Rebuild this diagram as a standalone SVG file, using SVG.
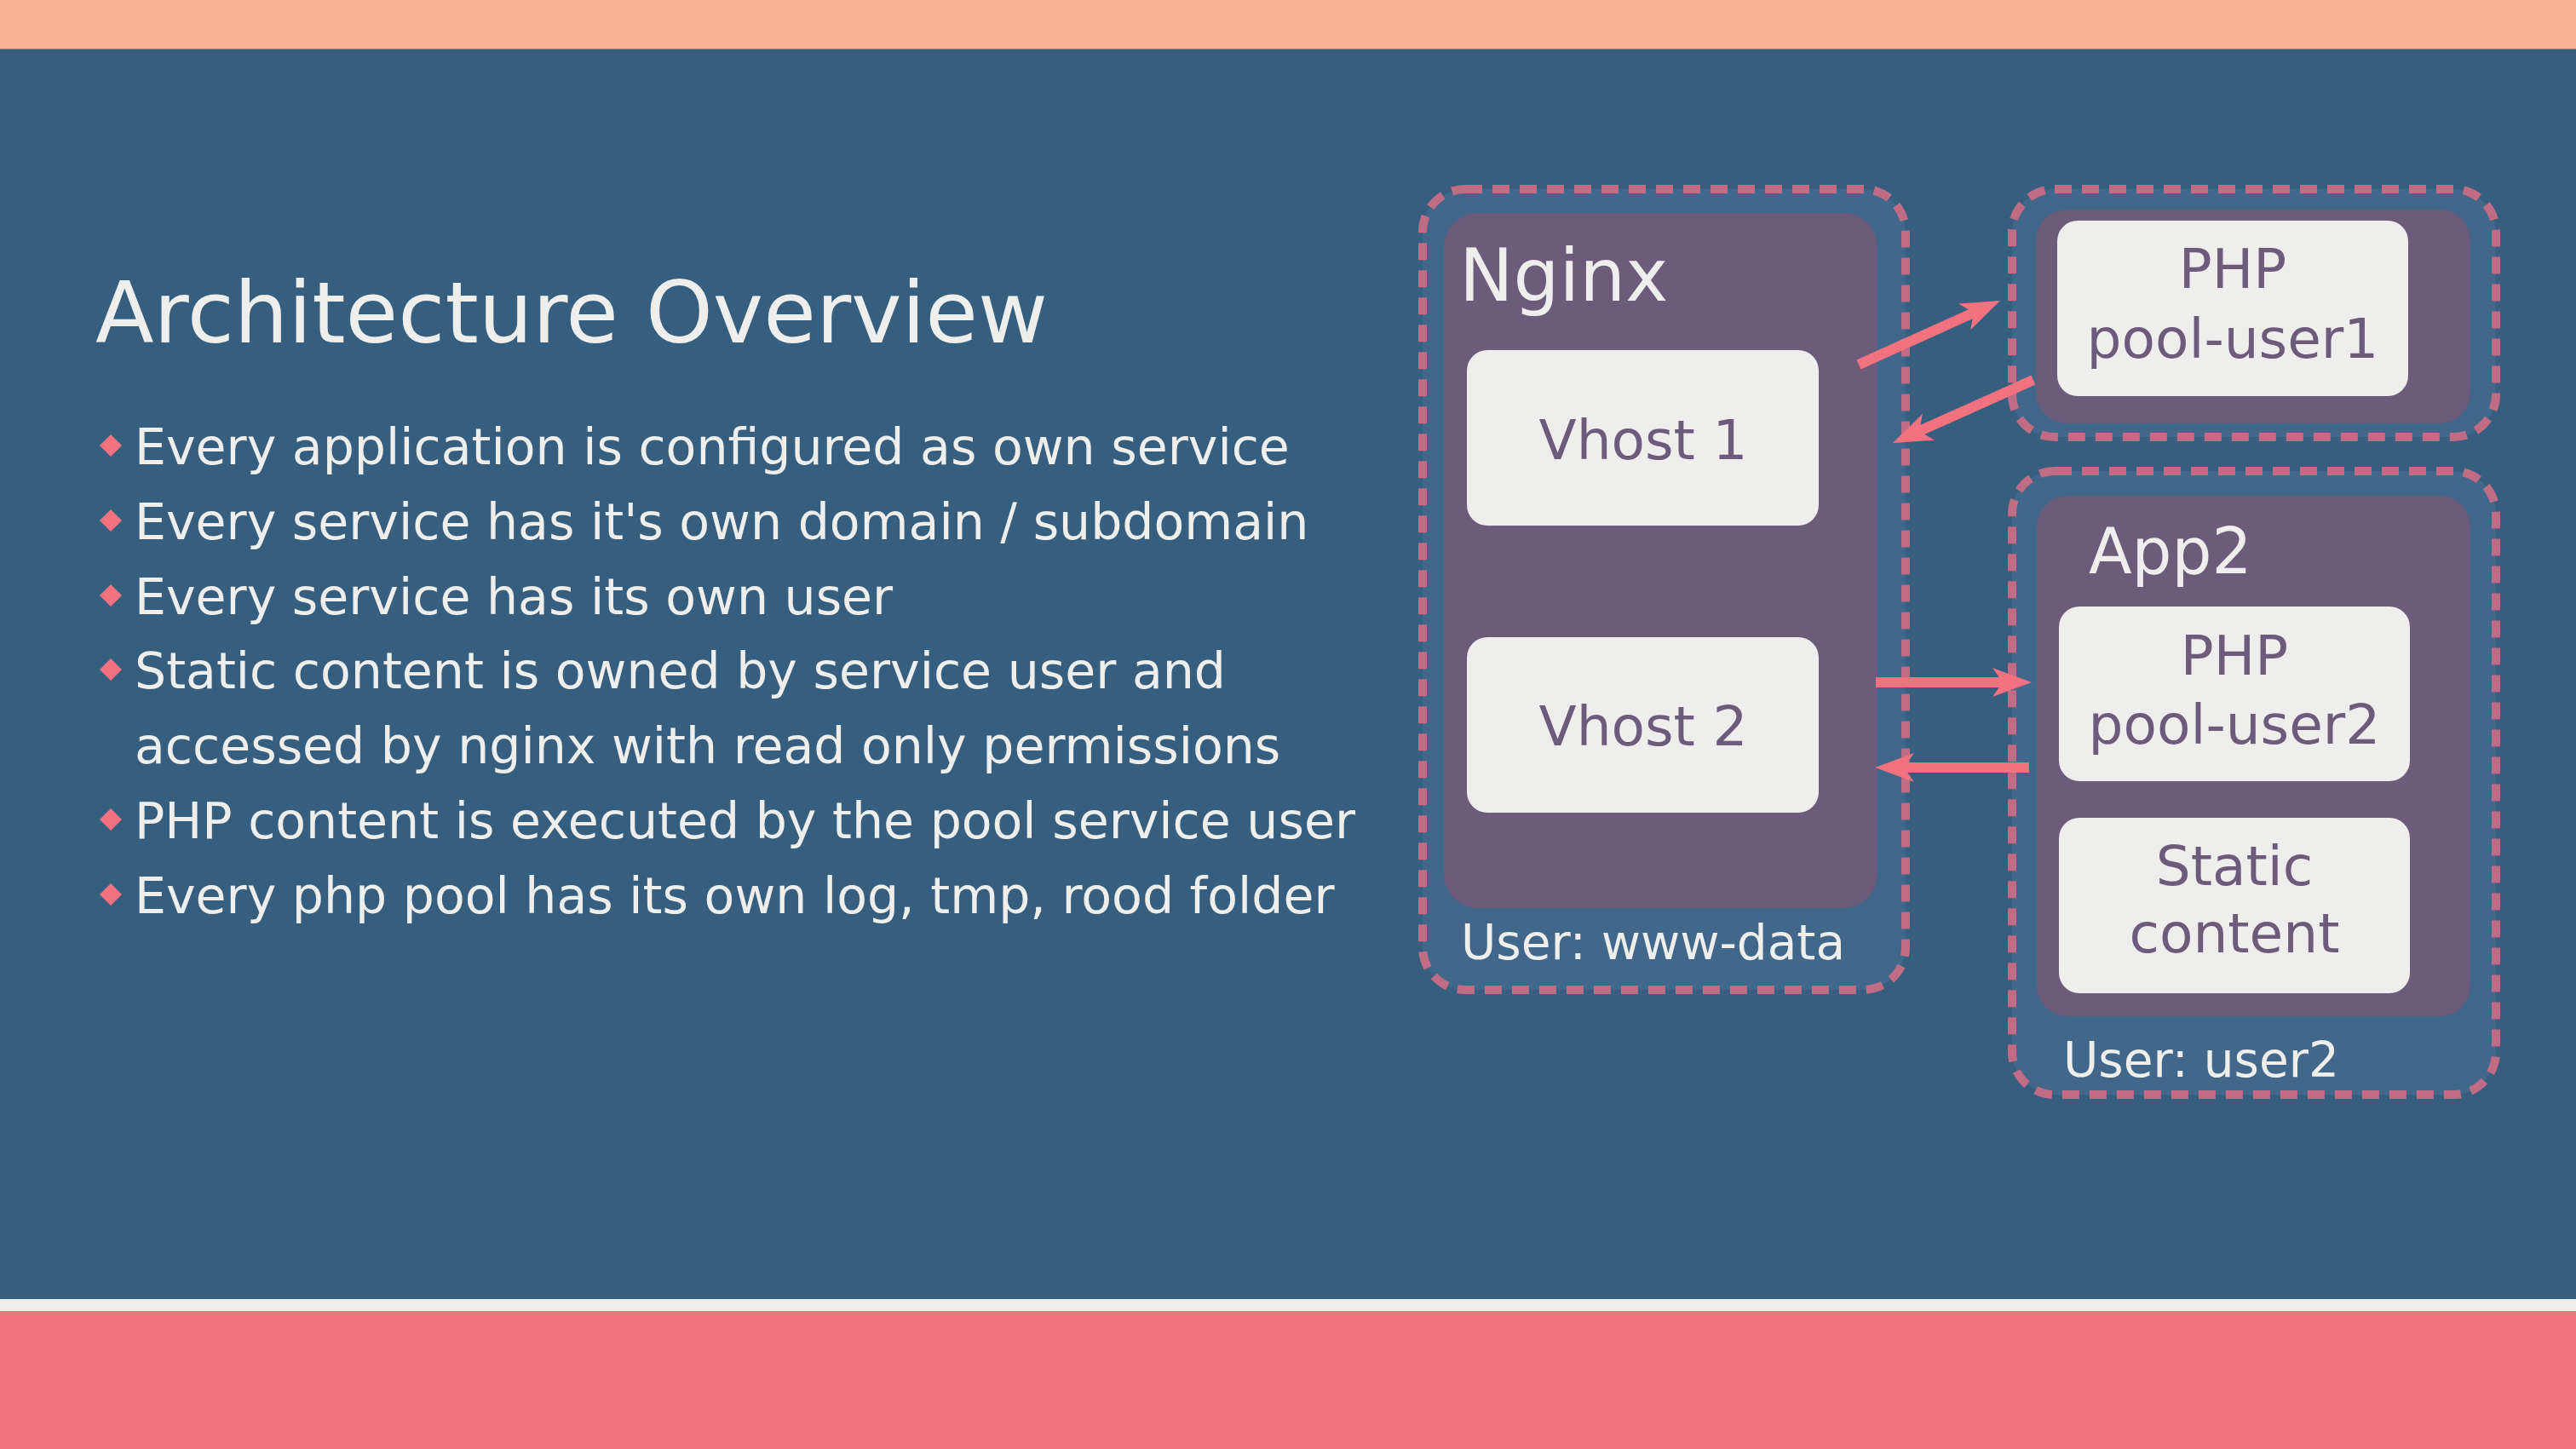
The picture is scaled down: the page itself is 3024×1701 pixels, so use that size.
<svg xmlns="http://www.w3.org/2000/svg" width="3024" height="1701" viewBox="0 0 3024 1701">
<defs>
<style>
.txt{font-family:"DejaVu Sans","Liberation Sans",sans-serif}
.light{fill:#EEEEEC}
.dark{fill:#6C5B7B}
.bullet{font-size:58.5px}
.diamond{fill:#F2727F}
.outer{fill:#41678A;stroke:#C06C84;stroke-width:10;stroke-dasharray:20 12}
.inner{fill:#6C5B7B}
.box{fill:#EEEEEC}
.boxtxt{font-size:64.5px;text-anchor:middle}
.user{font-size:56.5px}
.arrow{stroke:#F2727F;stroke-width:12;fill:none;stroke-linecap:butt;marker-end:url(#head)}
</style>
<marker id="head" viewBox="0 0 46 34" markerWidth="46" markerHeight="34" refX="20" refY="17" markerUnits="userSpaceOnUse" orient="auto">
<path d="M46,17 L0,0 L12,17 L0,34 Z" fill="#F2727F"/>
</marker>
</defs>

<g id="background">
<rect x="0" y="0" width="3024" height="1701" fill="#365E7E"/>
<rect x="0" y="0" width="3024" height="57" fill="#F8B195"/>
<rect x="0" y="57" width="3024" height="1" fill="#8F8C92"/>
<rect x="0" y="1525" width="3024" height="14" fill="#EEEEEC"/>
<rect x="0" y="1539" width="3024" height="162" fill="#F2727F"/>
</g>

<g id="title">
<text class="txt light" x="112" y="402" font-size="100.3">Architecture Overview</text>
</g>

<g id="bullets">
<polygon class="diamond" points="130,510 143,523 130,536 117,523"/>
<polygon class="diamond" points="130,598 143,611 130,624 117,611"/>
<polygon class="diamond" points="130,686 143,699 130,712 117,699"/>
<polygon class="diamond" points="130,773 143,786 130,799 117,786"/>
<polygon class="diamond" points="130,949 143,962 130,975 117,962"/>
<polygon class="diamond" points="130,1037 143,1050 130,1063 117,1050"/>
<text class="txt light bullet" x="158" y="545">Every application is configured as own service</text>
<text class="txt light bullet" x="158" y="633">Every service has it's own domain / subdomain</text>
<text class="txt light bullet" x="158" y="721">Every service has its own user</text>
<text class="txt light bullet" x="158" y="808">Static content is owned by service user and</text>
<text class="txt light bullet" x="158" y="896">accessed by nginx with read only permissions</text>
<text class="txt light bullet" x="158" y="984">PHP content is executed by the pool service user</text>
<text class="txt light bullet" x="158" y="1072">Every php pool has its own log, tmp, rood folder</text>
</g>

<g id="nginx">
<rect class="outer" x="1670" y="222" width="567" height="940" rx="50"/>
<rect class="inner" x="1695" y="250" width="509" height="816" rx="40"/>
<text class="txt light" x="1713" y="353" font-size="85">Nginx</text>
<text class="txt light user" x="1715" y="1126">User: www-data</text>
</g>
<g id="vhost1">
<rect class="box" x="1722" y="411" width="413" height="206" rx="24"/>
<text class="txt dark boxtxt" x="1929" y="539">Vhost 1</text>
</g>
<g id="vhost2">
<rect class="box" x="1722" y="748" width="413" height="206" rx="24"/>
<text class="txt dark boxtxt" x="1929" y="875">Vhost 2</text>
</g>

<g id="pool1">
<rect class="outer" x="2362" y="222" width="568" height="291" rx="50"/>
<rect class="inner" x="2390" y="246" width="510" height="251" rx="36"/>
<rect class="box" x="2415" y="259" width="412" height="206" rx="24"/>
<text class="txt dark boxtxt" x="2621" y="338">PHP</text>
<text class="txt dark boxtxt" x="2621" y="420">pool-user1</text>
</g>

<g id="app2">
<rect class="outer" x="2362" y="553" width="568" height="732" rx="50"/>
<rect class="inner" x="2391" y="582" width="509" height="611" rx="36"/>
<text class="txt light" x="2452" y="673" font-size="74">App2</text>
<text class="txt light user" x="2422" y="1264">User: user2</text>
</g>
<g id="pool2">
<rect class="box" x="2417" y="712" width="412" height="205" rx="24"/>
<text class="txt dark boxtxt" x="2623" y="792">PHP</text>
<text class="txt dark boxtxt" x="2623" y="873">pool-user2</text>
</g>
<g id="static">
<rect class="box" x="2417" y="960" width="412" height="206" rx="24"/>
<text class="txt dark boxtxt" x="2623" y="1039">Static</text>
<text class="txt dark boxtxt" x="2623" y="1118">content</text>
</g>

<g id="connectors">
<path class="arrow" d="M2182,428 L2324.3,363.7"/>
<path class="arrow" d="M2387,446 L2245.7,509.4"/>
<path class="arrow" d="M2202,801 L2359,801"/>
<path class="arrow" d="M2382,901 L2227,901"/>
</g>
</svg>
